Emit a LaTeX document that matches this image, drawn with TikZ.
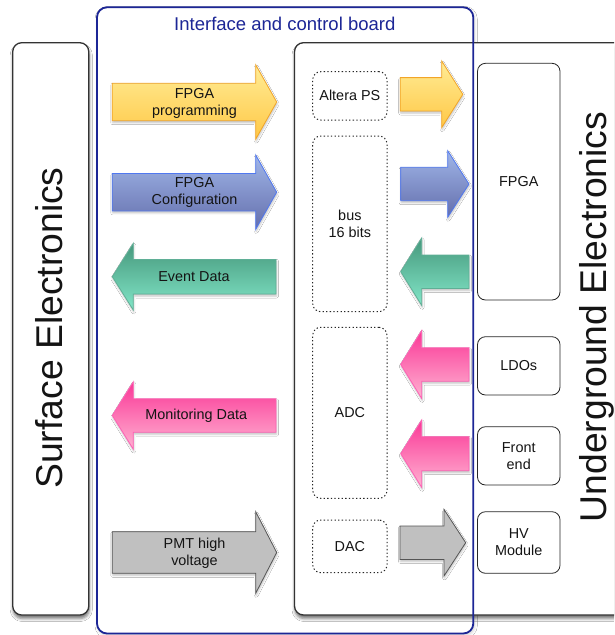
\documentclass[tikz,border=0pt]{standalone}
\usepackage{fontspec}
\setmainfont{Liberation Sans}
\usetikzlibrary{shadows,shadows.blur}
\definecolor{boardblue}{RGB}{28,38,150}
\definecolor{yTop}{RGB}{255,236,150}
\definecolor{yBot}{RGB}{255,200,70}
\definecolor{yEdge}{RGB}{242,165,40}
\definecolor{bTop}{RGB}{160,182,232}
\definecolor{bBot}{RGB}{100,110,172}
\definecolor{bEdge}{RGB}{80,120,240}
\definecolor{gTop}{RGB}{70,152,124}
\definecolor{gBot}{RGB}{130,230,200}
\definecolor{gEdge}{RGB}{95,175,150}
\definecolor{pTop}{RGB}{250,55,150}
\definecolor{pBot}{RGB}{255,178,210}
\definecolor{pEdge}{RGB}{255,95,180}
\definecolor{kFill}{RGB}{192,192,192}
\definecolor{kEdge}{RGB}{85,85,85}
\newcommand\ArrR[7]{\path[#1] (#2,{#5-#6}) -- (#3,{#5-#6}) -- (#3,{#5-#7}) -- (#4,#5) -- (#3,{#5+#7}) -- (#3,{#5+#6}) -- (#2,{#5+#6}) -- cycle;}
\newcommand\ArrL[7]{\path[#1] (#4,{#5-#6}) -- (#3,{#5-#6}) -- (#3,{#5-#7}) -- (#2,#5) -- (#3,{#5+#7}) -- (#3,{#5+#6}) -- (#4,{#5+#6}) -- cycle;}
\tikzset{
  sidebox/.style={draw=black!80, line width=1.3pt, rounded corners=9pt, fill=white,
    blur shadow={shadow xshift=0.5pt, shadow yshift=-3.5pt, shadow blur radius=3pt, shadow opacity=55}},
  boardbox/.style={draw=boardblue, line width=1.8pt, rounded corners=10pt},
  dotbox/.style={draw=black!85, dash pattern=on 1.3pt off 2.3pt, line width=1pt, rounded corners=8pt, inner sep=0pt},
  devbox/.style={draw=black!85, line width=0.8pt, rounded corners=8pt, fill=white, inner sep=0pt},
  lbl/.style={font=\fontsize{14.4}{17}\selectfont, align=center, text=black!92, inner sep=0pt},
  bigl/.style={font=\fontsize{37.3}{40}\selectfont, rotate=90, anchor=base, inner sep=0pt, text=black!92},
  ashadow/.style={blur shadow={shadow xshift=0.5pt, shadow yshift=-2pt, shadow blur radius=2pt, shadow opacity=25}},
  yarrow/.style={draw=yEdge, line width=0.8pt, top color=yTop, bottom color=yBot, ashadow},
  barrow/.style={draw=bEdge, line width=0.8pt, top color=bTop, bottom color=bBot, ashadow},
  garrow/.style={draw=gEdge, line width=0.8pt, top color=gTop, bottom color=gBot, ashadow},
  parrow/.style={draw=pEdge, line width=0.8pt, top color=pTop, bottom color=pBot, ashadow},
  karrow/.style={draw=kEdge, line width=0.8pt, fill=kFill, ashadow},
}
\begin{document}
\begin{tikzpicture}[x=1pt,y=-1pt]
\clip (0,0) rectangle (614,635);
\fill[white] (0,0) rectangle (614,635);
% interface board background with faint shadow
\path[fill=white, rounded corners=10pt,
  blur shadow={shadow xshift=1pt, shadow yshift=-2pt, shadow blur radius=3pt, shadow opacity=20}]
  (97,7.3) rectangle (473.3,633.5);
% surface electronics box
\path[sidebox] (12.7,42.7) rectangle (88.8,615);
\node[bigl] (surf) at (62.7,328) {Surface Electronics};
% underground electronics box
\path[sidebox] (294.5,42.7) rectangle (660,615);
\node[bigl] (under) at (606.7,317) {Underground Electronics};
% dotted boxes on the board
\node[dotbox, minimum width=74.3pt, minimum height=48.3pt] (altera) at (349.85,95.85) {};
\node[lbl] at (altera) {Altera PS};
\node[dotbox, minimum width=74.3pt, minimum height=175.7pt] (bus) at (349.85,223.85) {};
\node[lbl] at (bus) {bus\\16 bits};
\node[dotbox, minimum width=74.3pt, minimum height=171pt] (adc) at (349.85,412.8) {};
\node[lbl] at (adc) {ADC};
\node[dotbox, minimum width=74.3pt, minimum height=52.7pt] (dac) at (349.85,546.35) {};
\node[lbl] at (dac) {DAC};
% underground devices
\node[devbox, minimum width=82.5pt, minimum height=236.7pt] (fpga) at (518.75,181.65) {};
\node[lbl] at (fpga) {FPGA};
\node[devbox, minimum width=82.5pt, minimum height=58.3pt] (ldo) at (518.75,365.85) {};
\node[lbl] at (ldo) {LDOs};
\node[devbox, minimum width=82.5pt, minimum height=58.3pt] (fe) at (518.75,455.85) {};
\node[lbl] at (fe) {Front\\end};
\node[devbox, minimum width=82.5pt, minimum height=61.6pt] (hv) at (518.75,542.5) {};
\node[lbl] at (hv) {HV\\Module};
% left arrows
\ArrR{yarrow}{112.3}{255.7}{276.7}{102}{18.7}{37.2}
\node[lbl] (tprog) at (194.5,103) {FPGA\\programming};
\ArrR{barrow}{112.3}{255.7}{276.7}{192.2}{18.7}{37.2}
\node[lbl] (tconf) at (194.5,192.5) {FPGA\\Configuration};
\ArrL{garrow}{112.3}{133.3}{276}{276.7}{17.3}{33.4}
\node[lbl] (tevent) at (194,276.7) {Event Data};
\ArrL{parrow}{112.3}{133.3}{276}{415.5}{16.7}{33.7}
\node[lbl] (tmon) at (196.3,415.7) {Monitoring Data};
\ArrR{karrow}{112.3}{255.7}{276.7}{552.5}{20.8}{40.8}
\node[lbl] (tpmt) at (194.5,553) {PMT high\\voltage};
% right arrows
\ArrR{yarrow}{400.2}{441.7}{462.8}{94.3}{16.7}{33.3}
\ArrR{barrow}{400.7}{447.7}{469}{184}{16.7}{33.3}
\ArrL{garrow}{400.7}{421.7}{469}{271.7}{16.7}{33.7}
\ArrL{parrow}{400.7}{421.7}{469}{364.5}{16.7}{34}
\ArrL{parrow}{400.7}{421.7}{469}{453.7}{17}{33.7}
\ArrR{karrow}{400}{444}{465.7}{542.7}{16.7}{33.3}
% board outline on top
\path[boardbox] (97,7.3) rectangle (473.3,633.5);
\node[font=\fontsize{18.5}{20}\selectfont, text=boardblue, anchor=base, inner sep=0pt] (title) at (284.8,30) {Interface and control board};
\end{tikzpicture}
\end{document}
